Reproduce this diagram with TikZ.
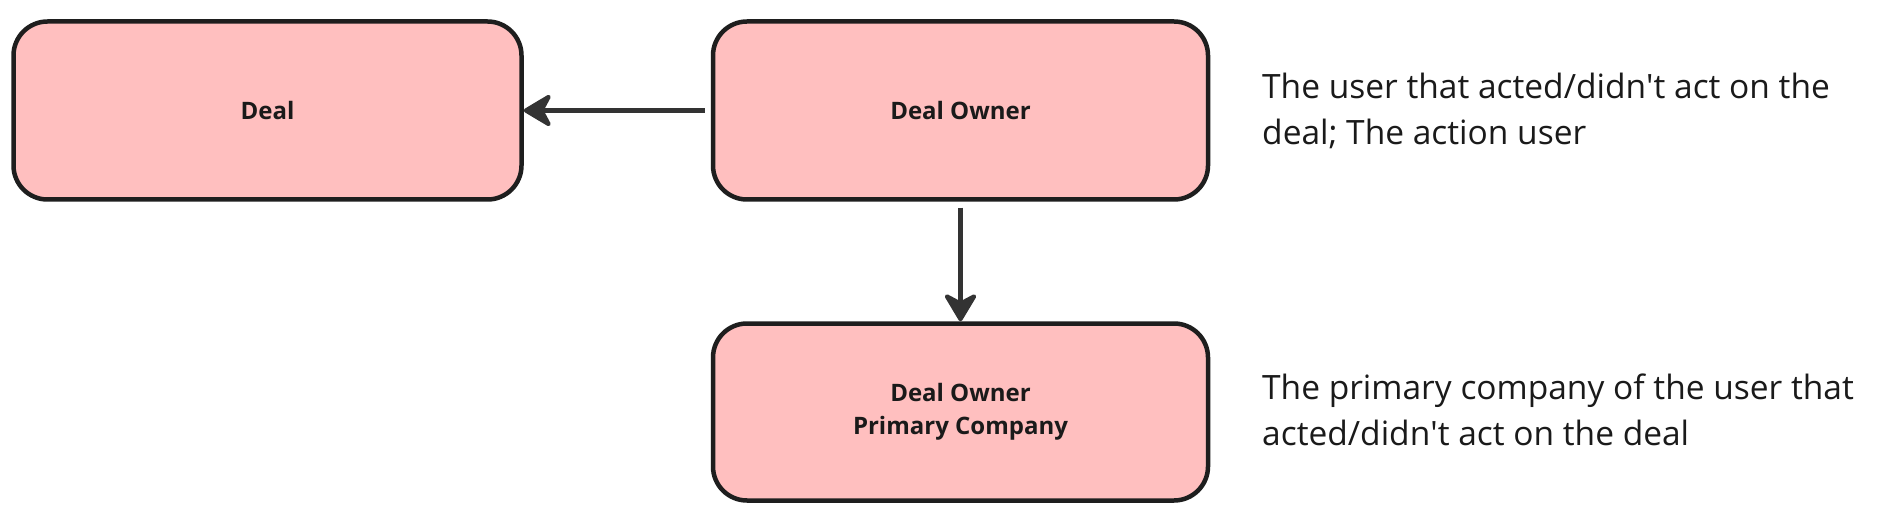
\documentclass[tikz,border=0pt]{standalone}
\usepackage{fontspec}
\setmainfont{Open Sans}
\usetikzlibrary{arrows.meta}
\definecolor{boxfill}{HTML}{FFBFBF}
\definecolor{boxline}{HTML}{1E1E1E}
\definecolor{arrowc}{HTML}{333333}
\definecolor{txt}{HTML}{1A1A1A}
\begin{document}
\begin{tikzpicture}[x=1pt,y=-1pt,
  entity/.style={draw=boxline, fill=boxfill, line width=4.5pt, rounded corners=34pt,
    minimum height=178pt, inner sep=0pt, align=center, text=txt,
    font=\fontsize{24}{33}\selectfont\bfseries},
  link/.style={draw=arrowc, line width=4.2pt, shorten <=6pt,
    -{Stealth[length=32pt,width=38pt,inset=10pt,round]}},
  note/.style={anchor=base west, align=left, inner sep=0pt, text=txt,
    font=\fontsize{33.5}{46}\selectfont}]
\useasboundingbox (0,0) rectangle (1887,529);
\fill[white] (0,0) rectangle (1887,529);
\node[entity, minimum width=508pt] (deal) at (267.5,110.5) {Deal};
\node[entity, minimum width=495pt] (owner) at (960.5,110.5) {Deal Owner};
\node[entity, minimum width=495pt, minimum height=177pt] (company) at (960.5,412) {Deal Owner\\Primary Company};
\draw[link] (owner.west) -- (deal.east);
\draw[link] (owner.south) -- (company.north);
\node[note] (n1) at (1262,145) {The user that acted/didn\textquotesingle t act on the\\deal; The action user};
\node[note] (n2) at (1262,445) {The primary company of the user that\\acted/didn\textquotesingle t act on the deal};
\end{tikzpicture}
\end{document}
